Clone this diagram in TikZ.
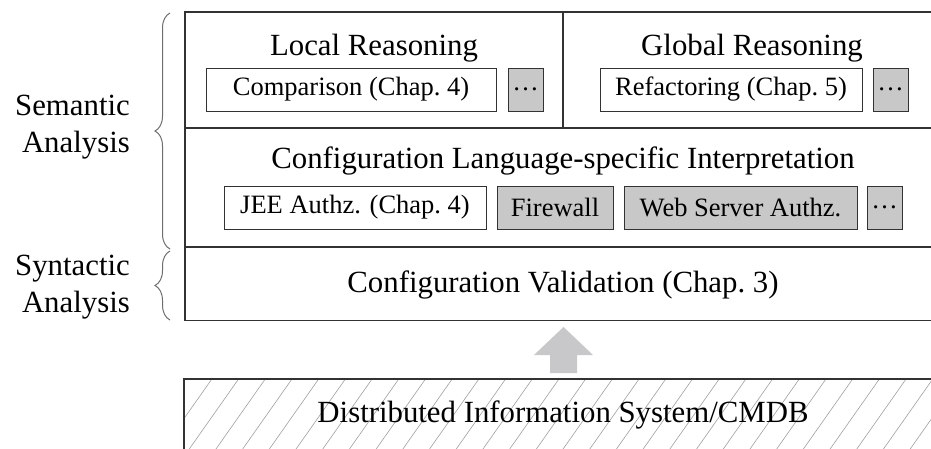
\documentclass[tikz,border=0pt]{standalone}
\usepackage{fontspec}
\setmainfont{Liberation Serif}
\usetikzlibrary{decorations.pathreplacing}
\definecolor{boxgray}{RGB}{200,200,200}
\definecolor{linegray}{RGB}{50,50,50}
\definecolor{arrowgray}{RGB}{200,200,202}
\definecolor{hatchgray}{RGB}{160,160,160}
\definecolor{bracegray}{RGB}{110,110,110}
\tikzset{
  bigfont/.style={font=\fontsize{30.8}{37}\selectfont},
  smallfont/.style={font=\fontsize{26.5}{30}\selectfont},
  layer/.style={draw=linegray, line width=1.3pt, inner sep=0pt},
  inbox/.style={draw=linegray, line width=0.9pt, fill=white, smallfont, minimum height=43, inner sep=0pt},
  graybox/.style={inbox, fill=boxgray},
  title/.style={bigfont, anchor=base, inner sep=0pt},
  sidelabel/.style={bigfont, align=right, anchor=north east, inner sep=0pt},
  bracestyle/.style={draw=bracegray, line width=1pt, decorate, decoration={brace, amplitude=15pt}},
  hatch/.style={draw=hatchgray, line width=0.6pt},
  blockarrow/.style={fill=arrowgray}
}
\begin{document}
\begin{tikzpicture}[x=1pt,y=-1pt]
\useasboundingbox[fill=white] (0,0) rectangle (931,448);
\clip (0,0) rectangle (931,448);

% layers of the analysis stack (right edges lie beyond the picture)
\node[layer, minimum width=378, minimum height=116] (local) at (374,70) {};
\node[layer, minimum width=400, minimum height=116] (global) at (763,70) {};
\node[layer, minimum width=778, minimum height=118.7] (interp) at (574,187.35) {};
\node[layer, minimum width=778, minimum height=73.3] (valid) at (574,283.65) {};

% titles
\node[title] (localt) at (374,55) {Local Reasoning};
\node[title] (globalt) at (752,55) {Global Reasoning};
\node[title] (interpt) at (563,168) {Configuration Language-specific Interpretation};
\node[title] (validt) at (563,292) {Configuration Validation (Chap.~3)};

% inner boxes, first row
\node[inbox, minimum width=290] (cmp) at (351,89.5) {Comparison (Chap.~4)};
\node[graybox, minimum width=35] (d1) at (525.5,89.5) {\dots};
\node[inbox, minimum width=262] (ref) at (731,89.5) {Refactoring (Chap.~5)};
\node[graybox, minimum width=35] (d2) at (890.5,89.5) {\dots};

% inner boxes, second row
\node[inbox, minimum width=262] (jee) at (355,207.5) {JEE Authz. (Chap.~4)};
\node[graybox, minimum width=116] (fw) at (555,207.5) {Firewall};
\node[graybox, minimum width=233] (web) at (740.5,207.5) {Web Server Authz.};
\node[graybox, minimum width=35] (d3) at (884.5,207.5) {\dots};

% bottom hatched box
\node[layer, draw=none, minimum width=780, minimum height=100, anchor=north west] (dis) at (184,379) {};
\begin{scope}
  \clip (dis.south west) rectangle (dis.north east);
  \foreach \i in {0,...,33} {
    \draw[hatch] (100+\i*26.7,500) -- ++(95,-135);
  }
\end{scope}
\draw[linegray, line width=1.3pt] (dis.south west) -- (dis.north west) -- (dis.north east);
\node[title] (dist) at (563,422) {Distributed Information System/CMDB};

% block arrow
\coordinate (atip) at (563.5,327);
\fill[blockarrow] (atip) -- ++(29.5,28) -- ++(-16,0) -- ++(0,18) -- ++(-27,0) -- ++(0,-18) -- ++(-16,0) -- cycle;

% braces and side labels
\coordinate (semb) at (170,249);
\coordinate (semt) at (170,13);
\coordinate (synb) at (170,320);
\coordinate (synt) at (170,251);
\draw[bracestyle] (semb) -- (semt);
\draw[bracestyle] (synb) -- (synt);
\node[sidelabel] (sem) at (130,95) {Semantic\\Analysis};
\node[sidelabel] (syn) at (130,255) {Syntactic\\Analysis};
\end{tikzpicture}
\end{document}
